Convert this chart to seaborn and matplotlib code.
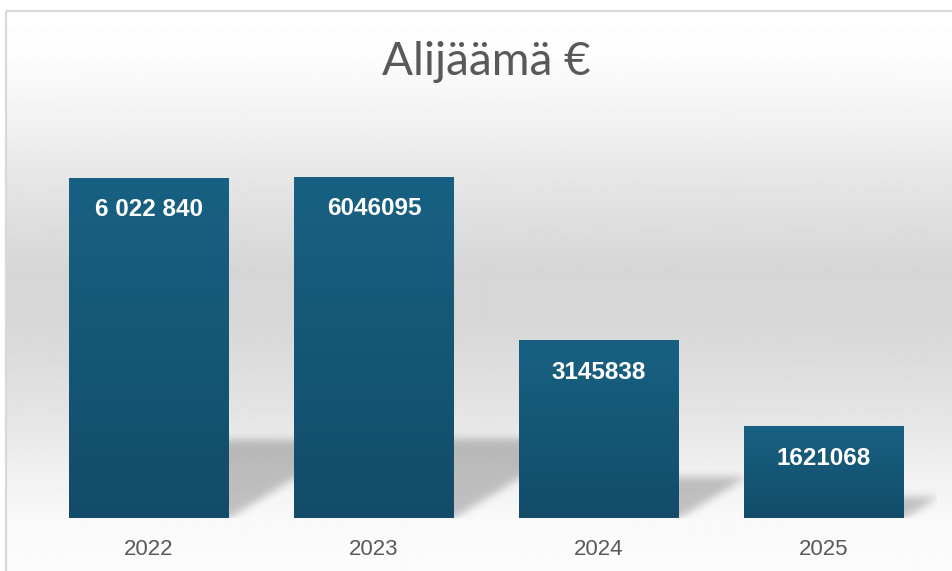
import numpy as np
import matplotlib
matplotlib.use("Agg")
import matplotlib.pyplot as plt
from matplotlib.colors import LinearSegmentedColormap
from matplotlib.patches import Rectangle
import seaborn as sns

sns.set_theme(style="white")
plt.rcParams["font.family"] = ["Liberation Sans", "DejaVu Sans"]

# data
years = ["2022", "2023", "2024", "2025"]
deficit = [6022840, 6046095, 3145838, 1621068]
value_labels = ["6 022 840", "6046095", "3145838", "1621068"]

W, H = 952, 571
fig = plt.figure(figsize=(W / 100, H / 100), dpi=100, facecolor="white")

# background panel with vertical grey gradient and thin border
bg = fig.add_axes([0, 0, 1, 1], zorder=-5)
bg.set_xlim(0, W)
bg.set_ylim(H, 0)
bg.axis("off")
stops_y = [11, 60, 130, 200, 270, 320, 400, 470, 520, 571]
stops_v = [255, 252, 240, 226, 214, 215, 226, 240, 249, 252]
rows = np.interp(np.arange(11, H), stops_y, stops_v) / 255.0
grad = np.repeat(rows[:, None], 2, axis=1)
bg.imshow(grad, cmap="gray", vmin=0, vmax=1, extent=(6, W + 20, H, 11),
          aspect="auto", origin="upper", interpolation="bilinear")
bg.add_patch(Rectangle((6, 11), 1000, 600, fill=False, edgecolor="#d9d9d9", lw=1.6))

# main axes: 225 px per category, baseline at y=518
ymax = 7e6
ax = fig.add_axes([36.5 / W, 53 / H, 900 / W, 395.2 / H], zorder=1)
ax.patch.set_alpha(0)
sns.barplot(x=years, y=deficit, width=0.711, color="#155a79", saturation=1,
            linewidth=0, ax=ax, zorder=3)
ax.set_xlim(-0.5, 3.5)
ax.set_ylim(0, ymax)

# vertical gradient inside each bar
bar_cmap = LinearSegmentedColormap.from_list("bar", ["#124c69", "#186183"])
bar_grad = np.linspace(0, 1, 256)[:, None]
for p in list(ax.patches):
    x0, w, h = p.get_x(), p.get_width(), p.get_height()
    im = ax.imshow(bar_grad, cmap=bar_cmap, extent=(x0, x0 + w, 0, h),
                   aspect="auto", origin="lower", zorder=3.1)
    im.set_clip_path(p)

# perspective shadow behind each bar (blurred parallelogram)
fig.canvas.draw()
bbox = ax.get_window_extent()
nx, ny = int(bbox.width), int(bbox.height)
ppx = bbox.width / 4.0
ppy = bbox.height / ymax
xs = (np.arange(nx) + 0.5) / ppx - 0.5
ys = (np.arange(ny) + 0.5) / ppy
XX, YY = np.meshgrid(xs, ys)
mask = np.zeros((ny, nx))
slope = 1.64 * ppy / ppx
for p in ax.patches:
    x0, w, h = p.get_x(), p.get_width(), p.get_height()
    sh = 0.23 * h
    inside = (YY <= sh) & (XX >= x0 + YY * slope) & (XX <= x0 + w + YY * slope)
    mask[inside] = 1.0

sigma = 4.0
k = np.arange(-12, 13)
kern = np.exp(-k ** 2 / (2 * sigma ** 2))
kern /= kern.sum()
pad = 12
m = np.pad(mask, pad, mode="constant")
m = np.apply_along_axis(lambda r: np.convolve(r, kern, mode="same"), 1, m)
m = np.apply_along_axis(lambda c: np.convolve(c, kern, mode="same"), 0, m)
m = m[pad:-pad, pad:-pad]
shadow = np.zeros((ny, nx, 4))
shadow[..., 3] = m * 0.22
ax.imshow(shadow, extent=(-0.5, 3.5, 0, ymax), origin="lower",
          aspect="auto", zorder=2, interpolation="bilinear")

ax.set_xlim(-0.5, 3.5)
ax.set_ylim(0, ymax)

# value labels inside the top of each bar
for p, lab in zip(ax.patches, value_labels):
    ax.annotate(lab, (p.get_x() + p.get_width() / 2, p.get_height()),
                xytext=(0, -32), textcoords="offset pixels",
                ha="center", va="center", color="white",
                fontsize=17.5, fontweight="bold", zorder=5)

for s in ax.spines.values():
    s.set_visible(False)
ax.set_yticks([])
ax.set_xlabel("")
ax.set_ylabel("")
ax.tick_params(axis="x", length=0, pad=15, labelsize=16, labelcolor="#595959")

fig.text(486 / W, 1 - 62 / H, "Alijäämä €", ha="center", va="center",
         fontsize=33, color="#595959", family=["Lato", "DejaVu Sans"])

fig.savefig("out.png", dpi=100, facecolor="white")
